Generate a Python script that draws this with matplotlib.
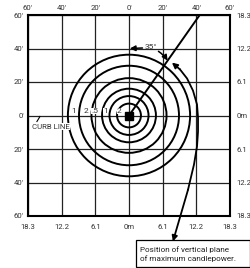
import numpy as np
import matplotlib as mpl
mpl.use('Agg')
import matplotlib.pyplot as plt
from matplotlib.patches import Circle, Rectangle

mpl.rcParams['font.family'] = ['Roboto', 'DejaVu Sans']
mpl.rcParams['font.size'] = 5.6

# grid in feet, secondary labels in metres
ticks_ft = [-60, -40, -20, 0, 20, 40, 60]
ft_labels = ["60'", "40'", "20'", "0'", "20'", "40'", "60'"]
m_labels = ["18.3", "12.2", "6.1", "0m", "6.1", "12.2", "18.3"]

# isofootcandle circles (radius in ft) and their labels
radii = [36.3, 29.7, 22.3, 16.0, 11.6, 7.1]
contour_labels = ["1", "2", ".5", "1", "2"]
label_x = [-32.7, -25.5, -20.2, -13.7, -5.9]

max_angle = 35  # degrees from vertical

# leader from text box up to the plane of max candlepower (ft)
leader_x = [25.5, 30.3, 34.5, 38.0, 40.4, 41.0, 41.0, 40.4, 38.6, 36.2, 35.1, 26.1]
leader_y = [31.6, 27.5, 22.1, 14.9, 6.6, -1.2, -9.6, -18.5, -29.3, -39.4, -44.2, -75.2]

DPI = 100
fig = plt.figure(figsize=(2.51, 2.68), dpi=DPI)
ax = fig.add_axes([28/251, 1-216/268, 202/251, 201/268])
ax.set_xlim(-60, 60)
ax.set_ylim(-60, 60)

ax.set_xticks(ticks_ft)
ax.set_xticklabels(ft_labels)
ax.set_yticks(ticks_ft)
ax.set_yticklabels(ft_labels)
ax.tick_params(axis='x', top=False, bottom=False, labeltop=True, labelbottom=False,
               length=0, pad=3, labelcolor='#333')
ax.tick_params(axis='y', left=False, length=0, pad=3, labelcolor='#333')
ax.grid(True, color='#222', lw=0.9)
for s in ax.spines.values():
    s.set_linewidth(1.5)

sx = ax.secondary_xaxis('bottom')
sx.set_xticks(ticks_ft)
sx.set_xticklabels(m_labels)
sx.tick_params(length=0, pad=5.5, labelcolor='#333')
sx.spines['bottom'].set_visible(False)
sy = ax.secondary_yaxis('right')
sy.set_yticks(ticks_ft)
sy.set_yticklabels(m_labels[::-1])
sy.tick_params(length=0, pad=4.5, labelcolor='#333')
sy.spines['right'].set_visible(False)

for r in radii:
    ax.add_patch(Circle((0, 0), r, fill=False, ec='black', lw=1.4, zorder=3))
for lab, x in zip(contour_labels, label_x):
    ax.text(x, 2.8, lab, ha='center', va='center', fontsize=6, color='#333',
            zorder=4, bbox=dict(fc='white', ec='none', pad=0.1))

# plane of max candlepower
a = np.radians(max_angle)
ax.plot([0, 60*np.tan(a)], [0, 60], color='black', lw=1.4, zorder=5)
ax.plot([0], [0], marker='s', ms=5.8, color='black', zorder=6)

# angle dimension
ax.text(12.8, 41, "35°", ha='center', va='center', fontsize=6, color='#333', zorder=6)
ax.annotate("", xy=(0.5, 40), xytext=(8, 40.3),
            arrowprops=dict(arrowstyle='-|>', color='black', lw=1.1, mutation_scale=8,
                            shrinkA=0, shrinkB=0), zorder=6)
ax.annotate("", xy=(40*np.sin(a), 40*np.cos(a)), xytext=(17.5, 38.3),
            arrowprops=dict(arrowstyle='-|>', color='black', lw=1.1, mutation_scale=8,
                            shrinkA=0, shrinkB=0, connectionstyle='arc3,rad=-0.1'), zorder=6)

# leader
ax.plot(leader_x[1:-1], leader_y[1:-1], color='black', lw=1.3, clip_on=False, zorder=5)
ax.annotate("", xy=(leader_x[0], leader_y[0]), xytext=(leader_x[1], leader_y[1]),
            arrowprops=dict(arrowstyle='-|>', color='black', lw=1.3, mutation_scale=8,
                            shrinkA=0, shrinkB=0), zorder=6, annotation_clip=False)
ax.annotate("", xy=(leader_x[-1], leader_y[-1]), xytext=(leader_x[-2], leader_y[-2]),
            arrowprops=dict(arrowstyle='-|>', color='black', lw=1.3, mutation_scale=8,
                            shrinkA=0, shrinkB=0), zorder=6, annotation_clip=False)

# curb line
ax.text(-57.6, -6.6, "CURB LINE", ha='left', va='center', fontsize=5.6, color='#333',
        zorder=6, bbox=dict(fc='white', ec='none', pad=0.3))
ax.plot([-54.7, -52.9], [-3.6, -0.6], color='black', lw=0.8, zorder=6)

# text box
fig.patches.append(Rectangle((136/251, 1-267/268), 114/251, 27/268, transform=fig.transFigure,
                             fill=False, ec='black', lw=0.9))
fig.text(140/251, 1-254/268, "Position of vertical plane\nof maximum candlepower.",
         ha='left', va='center', fontsize=5.9, color='#222', linespacing=1.4)

fig.savefig("out.png", dpi=DPI)
